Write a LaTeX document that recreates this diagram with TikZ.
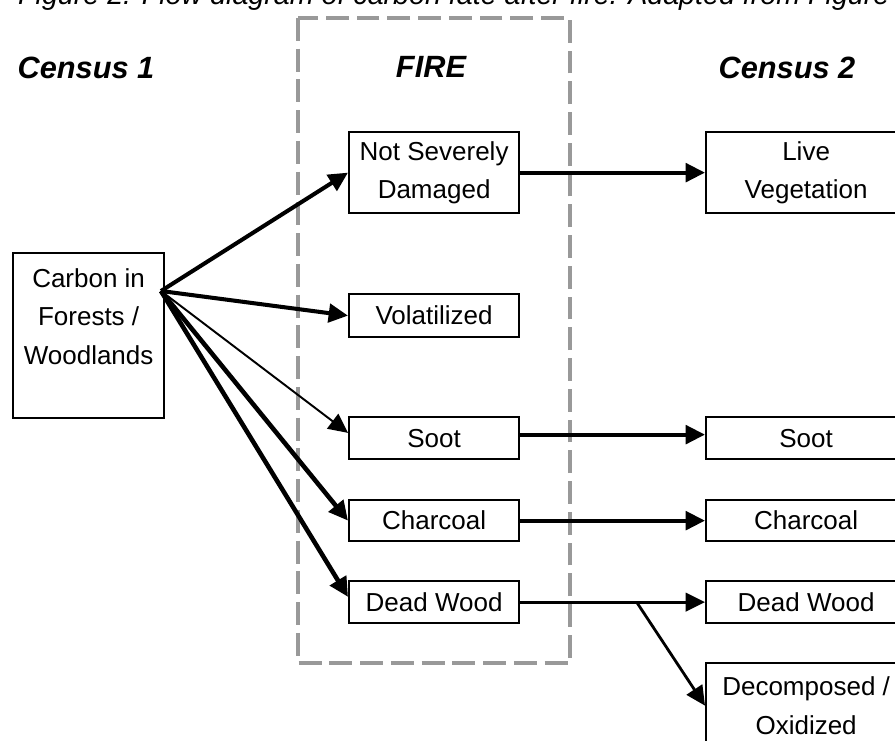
\documentclass[tikz,border=0pt]{standalone}
\usepackage{fontspec}
\setmainfont{Liberation Sans}
\usetikzlibrary{arrows.meta}
\tikzstyle{every node}=[font=\fontsize{14.8}{22}\selectfont]
\tikzstyle{box}=[draw=black,line width=1.3pt,anchor=north west,align=center,inner sep=0pt,minimum width=3.4cm]
\tikzstyle{farbox}=[box,minimum width=4cm]
\tikzstyle{heading}=[font=\fontsize{17.5}{20}\selectfont\bfseries\itshape]
\tikzstyle{flow}=[-{Triangle[length=11pt,width=10.5pt]},line width=2.3pt]

\begin{document}
\begin{tikzpicture}[x=0.02cm,y=-0.02cm]
    \clip (0,0) rectangle (895,740);
    \node[font=\fontsize{16.3}{18}\selectfont\itshape,anchor=base west] (caption) at (12,5)
        {Figure 2. Flow diagram of carbon fate after fire. Adapted from Figure};
    \draw[gray!80,line width=2.5pt,dash pattern=on 13pt off 4.5pt] (298,18) rectangle (570,663);
    \node[heading] (census1) at (86,68) {Census 1};
    \node[heading] (fire) at (431,67) {FIRE};
    \node[heading] (census2) at (787,68) {Census 2};
    \node[box,minimum width=3.02cm,minimum height=3.3cm] (carbon) at (12,252) {Carbon in\\Forests /\\Woodlands\\~};
    \node[box,minimum height=1.62cm] (notsev) at (348,131) {Not Severely\\Damaged};
    \node[box,minimum height=0.86cm] (volat) at (348,293) {Volatilized};
    \node[box,minimum height=0.84cm] (soot) at (348,416) {Soot};
    \node[box,minimum height=0.82cm] (charc) at (348,499) {Charcoal};
    \node[box,minimum height=0.84cm] (deadw) at (348,580) {Dead Wood};
    \node[farbox,minimum height=1.62cm] (live) at (705,131) {Live\\Vegetation};
    \node[farbox,minimum height=0.84cm] (soot2) at (705,416) {Soot};
    \node[farbox,minimum height=0.82cm] (charc2) at (705,499) {Charcoal};
    \node[farbox,minimum height=0.84cm] (deadw2) at (705,580) {Dead Wood};
    \node[farbox,minimum height=1.7cm] (decomp) at (705,662) {Decomposed /\\Oxidized};
    \coordinate (src) at (161,291);
    \draw[flow] (src) -- (notsev.west);
    \draw[flow] (src) -- (volat.west);
    \draw[flow,line width=1.1pt] (src) -- ([yshift=3pt]soot.west);
    \draw[flow,line width=2.6pt] (src) -- (charc.west);
    \draw[flow,line width=2.6pt] (src) -- ([yshift=3pt]deadw.west);
    \draw[flow] (notsev.east) -- (live.west);
    \draw[flow] ([yshift=2pt]soot.east) -- ([yshift=2pt]soot2.west);
    \draw[flow] (charc.east) -- (charc2.west);
    \draw[flow,line width=1.6pt] (deadw.east) -- coordinate[pos=0.63] (split) (deadw2.west);
    \draw[flow,line width=1.6pt] (split) -- (decomp.west);
\end{tikzpicture}
\end{document}
